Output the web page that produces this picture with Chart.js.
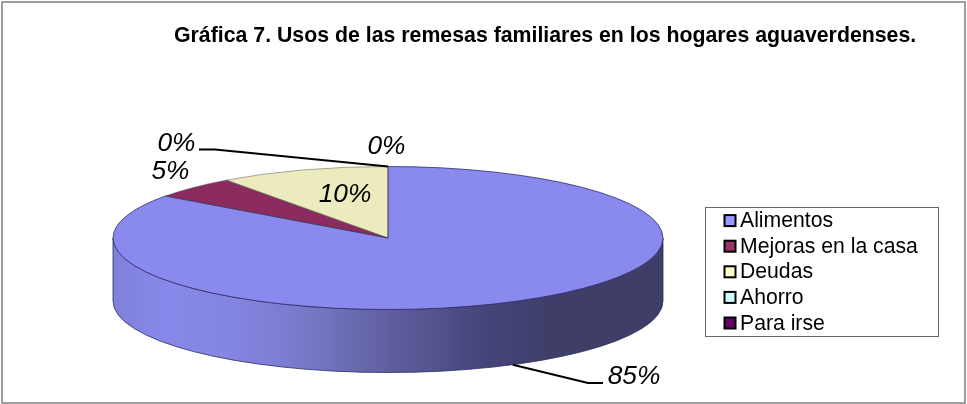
<!DOCTYPE html>
<html lang="es">
<head>
<meta charset="utf-8">
<title>Gráfica 7</title>
<script src="https://cdn.jsdelivr.net/npm/chart.js@4"></script>
<style>
    html, body { margin: 0; background: #fff; }
    canvas { display: block; }
</style>
</head>
<body>
<canvas id="remesasChart" width="967" height="404"></canvas>
<script>
const chartTitle = 'Gráfica 7. Usos de las remesas familiares en los hogares aguaverdenses.';
const categories = ['Alimentos', 'Mejoras en la casa', 'Deudas', 'Ahorro', 'Para irse'];
const percentages = [85, 5, 10, 0, 0];
const sliceColors = ['#8989ee', '#8b2b60', '#ecebbd', '#c4ecec', '#5c0f5c'];
const swatchColors = ['#9999ff', '#993366', '#ffffcc', '#ccffff', '#660066'];

const FONT = '"Liberation Sans", Arial, sans-serif';
const faceRadiusX = 275;
const faceRadiusY = 71.5;
const wallDepth = 63;

// Chart.js only draws round pies, so the canvas gets squashed around the pie centre
function tilt(ctx, arc) {
    ctx.translate(arc.x, arc.y);
    ctx.scale(faceRadiusX / arc.outerRadius, faceRadiusY / arc.outerRadius);
    ctx.translate(-arc.x, -arc.y);
}

function rimPoint(arc, angle, depth) {
    return {
        x: arc.x + faceRadiusX * Math.cos(angle),
        y: arc.y + faceRadiusY * Math.sin(angle) + depth
    };
}

function midAngle(arc) {
    return (arc.startAngle + arc.endAngle) / 2;
}

const wallPlugin = {
    id: 'wall',
    beforeDatasetDraw(chart, args) {
        const ctx = chart.ctx;
        args.meta.data.forEach(arc => {
            const from = Math.max(arc.startAngle, 0);
            const to = Math.min(arc.endAngle, Math.PI);
            if (to <= from) return;

            const left = arc.x - faceRadiusX;
            const right = arc.x + faceRadiusX;
            const shade = ctx.createLinearGradient(left, 0, right, 0);
            shade.addColorStop(0, '#8080dc');
            shade.addColorStop(0.1, '#8888ea');
            shade.addColorStop(0.22, '#8484e2');
            shade.addColorStop(0.34, '#7a7acb');
            shade.addColorStop(0.5, '#5f5fa0');
            shade.addColorStop(0.68, '#44447a');
            shade.addColorStop(0.8, '#3e3e68');
            shade.addColorStop(1, '#3e3e68');

            ctx.save();
            ctx.beginPath();
            const start = rimPoint(arc, to, 0);
            const bottom = rimPoint(arc, from, 0);
            ctx.moveTo(bottom.x, bottom.y);
            ctx.lineTo(bottom.x, bottom.y + wallDepth);
            ctx.ellipse(arc.x, arc.y + wallDepth, faceRadiusX, faceRadiusY, 0, from, to);
            ctx.lineTo(start.x, start.y);
            ctx.ellipse(arc.x, arc.y, faceRadiusX, faceRadiusY, 0, to, from, true);
            ctx.closePath();
            ctx.fillStyle = shade;
            ctx.fill();
            ctx.lineWidth = 1;
            ctx.strokeStyle = 'rgba(45, 45, 95, 0.8)';
            ctx.stroke();
            ctx.restore();
        });

        ctx.save();
        tilt(ctx, args.meta.data[0]);
    },
    afterDatasetDraw(chart, args) {
        const ctx = chart.ctx;
        ctx.restore();

        // slice outlines, stroked unsquashed so the line keeps one width
        args.meta.data.forEach((arc, i) => {
            if (percentages[i] === 0) return;
            ctx.beginPath();
            ctx.moveTo(arc.x, arc.y);
            ctx.ellipse(arc.x, arc.y, faceRadiusX, faceRadiusY, 0, arc.startAngle, arc.endAngle);
            ctx.closePath();
            ctx.lineWidth = 1;
            ctx.strokeStyle = i === 0 ? 'rgba(40, 40, 100, 0.75)' : 'rgba(70, 70, 70, 0.45)';
            ctx.stroke();
        });
    }
};

// label centre x and text baseline y, one per category
const labelSpots = [[634, 384], [170.5, 179], [345, 201.5], [386.5, 154], [176.5, 150.5]];

const decorPlugin = {
    id: 'decor',
    afterDraw(chart) {
        const ctx = chart.ctx;
        const arcs = chart.getDatasetMeta(0).data;

        ctx.save();
        ctx.strokeStyle = '#7f7f7f';
        ctx.lineWidth = 1.5;
        ctx.strokeRect(2, 2, 963, 401);

        ctx.fillStyle = '#000';
        ctx.textBaseline = 'alphabetic';
        ctx.textAlign = 'left';
        ctx.font = 'bold 21.3px ' + FONT;
        ctx.fillText(chartTitle, 174, 42);

        // leader lines run from the slice rim to the outside label
        const alimentos = rimPoint(arcs[0], midAngle(arcs[0]), wallDepth);
        const paraIrse = rimPoint(arcs[4], arcs[4].startAngle, 0);
        ctx.strokeStyle = '#000';
        ctx.lineWidth = 2;
        ctx.beginPath();
        ctx.moveTo(alimentos.x, alimentos.y);
        ctx.lineTo(588, 383);
        ctx.lineTo(603, 383);
        ctx.moveTo(paraIrse.x, paraIrse.y);
        ctx.lineTo(215, 149.5);
        ctx.lineTo(199, 149.5);
        ctx.stroke();

        ctx.font = 'italic 26.3px ' + FONT;
        ctx.textAlign = 'center';
        percentages.forEach((value, i) => {
            ctx.fillText(value + '%', labelSpots[i][0], labelSpots[i][1]);
        });

        // legend
        ctx.fillStyle = '#fff';
        ctx.strokeStyle = '#666';
        ctx.lineWidth = 1;
        ctx.fillRect(705.5, 207.5, 233, 129);
        ctx.strokeRect(705.5, 207.5, 233, 129);
        ctx.font = '21.2px ' + FONT;
        ctx.textAlign = 'left';
        categories.forEach((name, i) => {
            const rowY = 220.6 + i * 25.6;
            ctx.fillStyle = swatchColors[i];
            ctx.strokeStyle = '#000';
            ctx.lineWidth = 2;
            ctx.fillRect(724.5, rowY - 5.5, 11, 11);
            ctx.strokeRect(724.5, rowY - 5.5, 11, 11);
            ctx.fillStyle = '#000';
            ctx.fillText(name, 740, rowY + 6.5);
        });
        ctx.restore();
    }
};

new Chart(document.getElementById('remesasChart'), {
    type: 'pie',
    data: {
        labels: categories,
        datasets: [{
            data: percentages,
            backgroundColor: sliceColors,
            borderWidth: 0
        }]
    },
    options: {
        responsive: false,
        animation: false,
        layout: { padding: { top: 100, bottom: 28, left: 100, right: 291 } },
        plugins: {
            legend: { display: false },
            tooltip: { enabled: false }
        }
    },
    plugins: [wallPlugin, decorPlugin]
});
</script>
</body>
</html>
